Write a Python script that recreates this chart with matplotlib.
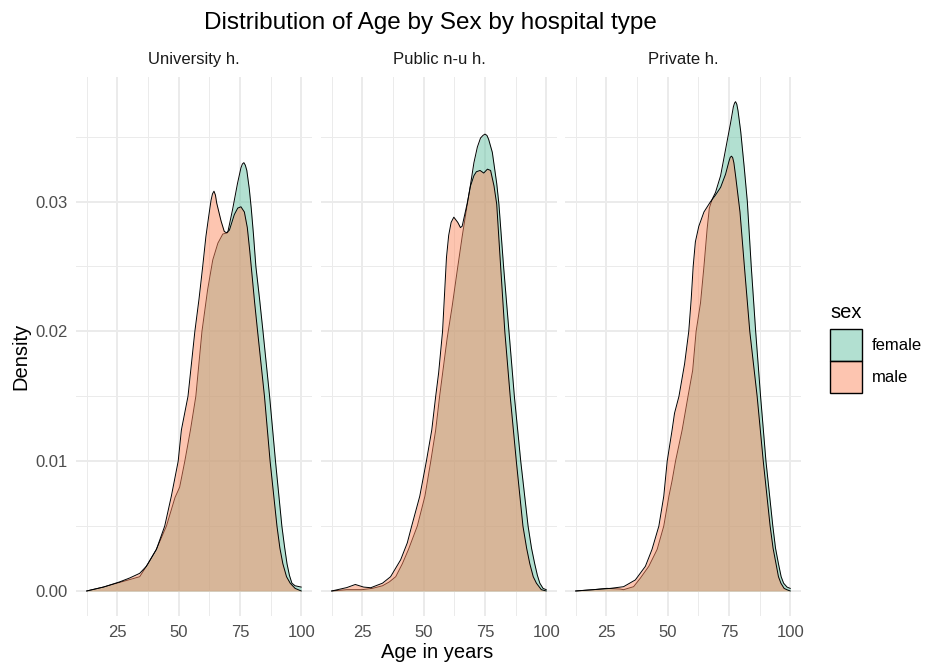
import matplotlib
matplotlib.use("Agg")
import matplotlib.pyplot as plt
from matplotlib.colors import to_rgba
from matplotlib.patches import Rectangle
from matplotlib.ticker import MultipleLocator

plt.rcParams['font.family'] = ['Liberation Sans', 'DejaVu Sans']

FEMALE = "#66C2A5"
MALE = "#FC8D62"

hospitals = ["University h.", "Public n-u h.", "Private h."]
sexes = ["female", "male"]

# University hospitals
univ_f_age = [12.5, 19.3, 24.8, 28.6, 34.1, 37.5, 40.9, 45.0, 48.5, 50.4, 52.5, 54.8,
              57.0, 59.5, 61.8, 63.9, 66.0, 68.0, 70.0, 72.0, 74.0, 75.4, 76.0, 76.6,
              77.2, 77.8, 78.8, 79.6, 80.5, 81.5, 83.0, 84.4, 87.1, 89.5, 92.1, 93.2,
              94.2, 95.2, 96.2, 97.5, 100.0]
univ_f_den = [0.0, 0.0003, 0.0006, 0.0008, 0.0011, 0.0021, 0.0032, 0.0050, 0.0072, 0.0080,
              0.0100, 0.0124, 0.0150, 0.0200, 0.0232, 0.0255, 0.0268, 0.0275, 0.0276,
              0.0294, 0.0314, 0.0326, 0.0329, 0.0330, 0.0328, 0.0324, 0.0310, 0.0295,
              0.0275, 0.0250, 0.0225, 0.0200, 0.0150, 0.0100, 0.0050, 0.0034, 0.0021,
              0.0012, 0.0006, 0.0004, 0.0003]
univ_m_age = [12.5, 19.3, 25.9, 30.0, 34.1, 36.8, 40.9, 44.3, 47.0, 49.8, 51.1, 53.8,
              56.6, 58.3, 59.8, 61.1, 62.2, 63.2, 63.8, 64.4, 65.0, 65.5, 67.3, 68.6,
              69.5, 70.7, 72.7, 74.1, 75.4, 76.8, 78.0, 79.0, 80.0, 81.0, 82.2, 85.0,
              87.3, 90.1, 91.3, 92.5, 94.0, 95.5, 97.5, 100.0]
univ_m_den = [0.0, 0.0003, 0.0007, 0.0010, 0.00136, 0.0019, 0.0032, 0.0050, 0.0073, 0.0100,
              0.0124, 0.0150, 0.0200, 0.0225, 0.0250, 0.0273, 0.0288, 0.0301, 0.0306,
              0.0308, 0.0305, 0.0299, 0.0285, 0.0277, 0.0276, 0.0278, 0.0290, 0.0295,
              0.0296, 0.0292, 0.0280, 0.0262, 0.0242, 0.0222, 0.0200, 0.0150, 0.0100,
              0.0050, 0.0033, 0.0021, 0.0011, 0.0006, 0.0002, 0.0]

# Public non-university hospitals
pub_f_age = [12.5, 18.6, 24.8, 29.1, 33.2, 36.0, 38.6, 41.3, 43.8, 47.4, 50.5, 52.9,
             54.9, 56.5, 59.6, 61.6, 63.7, 65.7, 67.8, 69.1, 70.5, 71.9, 73.2, 74.2,
             75.0, 75.8, 76.5, 78.0, 79.8, 80.7, 82.6, 84.8, 87.0, 89.6, 92.6, 94.0,
             95.3, 96.4, 97.4, 98.7, 100.0]
pub_f_den = [0.0, 0.0001, 0.0001, 0.0002, 0.0004, 0.0007, 0.0011, 0.0021, 0.0032, 0.0050,
             0.0073, 0.0100, 0.0124, 0.0150, 0.0195, 0.0219, 0.0247, 0.0273, 0.0298,
             0.0313, 0.0330, 0.0342, 0.0349, 0.0351, 0.0352, 0.0351, 0.0348, 0.0338,
             0.0314, 0.0298, 0.0250, 0.0200, 0.0150, 0.0100, 0.0050, 0.0033, 0.0021,
             0.0012, 0.0006, 0.0002, 0.0001]
pub_m_age = [12.5, 18.6, 22.1, 25.5, 28.4, 33.2, 36.5, 40.6, 43.3, 45.1, 48.4, 51.1,
             53.3, 54.9, 56.1, 57.7, 58.6, 59.3, 60.2, 61.2, 62.3, 63.9, 65.0, 65.7,
             67.8, 69.1, 70.5, 71.5, 73.0, 74.5, 76.0, 77.3, 78.7, 79.8, 81.4, 83.1,
             85.3, 87.8, 90.5, 92.0, 93.3, 94.7, 96.0, 98.0, 100.0]
pub_m_den = [0.0, 0.00026, 0.0005, 0.0003, 0.00025, 0.0006, 0.0011, 0.0024, 0.0037, 0.0050,
             0.0073, 0.0100, 0.0124, 0.0150, 0.0168, 0.0200, 0.0232, 0.0257, 0.0274,
             0.0284, 0.0288, 0.0284, 0.0280, 0.0281, 0.0299, 0.0312, 0.0320, 0.0323,
             0.0324, 0.0322, 0.0325, 0.0324, 0.0312, 0.0298, 0.0250, 0.0200, 0.0150,
             0.0100, 0.0050, 0.0033, 0.0021, 0.0011, 0.0006, 0.0001, 0.0]

# Private hospitals
priv_f_age = [12.5, 19.7, 25.2, 30.6, 32.0, 36.1, 38.9, 42.3, 45.7, 48.4, 50.5, 51.8,
              53.2, 55.9, 58.3, 60.2, 61.6, 63.4, 64.8, 66.1, 67.0, 68.2, 69.5, 71.6,
              73.6, 75.7, 76.8, 77.3, 77.7, 78.2, 78.7, 79.8, 81.2, 82.5, 84.1, 85.9,
              87.9, 90.1, 92.9, 94.0, 95.2, 96.3, 97.3, 98.7, 100.0]
priv_f_den = [0.0, 0.0001, 0.0002, 0.00015, 0.0001, 0.00033, 0.0010, 0.0019, 0.0032,
              0.0050, 0.0073, 0.0085, 0.0100, 0.0124, 0.0150, 0.0170, 0.0200, 0.0222,
              0.0250, 0.0279, 0.0295, 0.0302, 0.0307, 0.0320, 0.0340, 0.0361, 0.0373,
              0.0376, 0.0377, 0.0375, 0.0370, 0.0354, 0.0327, 0.0300, 0.0250, 0.0200,
              0.0150, 0.0100, 0.0050, 0.0033, 0.0021, 0.0011, 0.0006, 0.0003, 0.0002]
priv_m_age = [12.5, 19.7, 26.6, 32.0, 36.8, 40.9, 43.6, 46.4, 48.4, 49.8, 51.8, 52.8,
              54.6, 56.9, 58.6, 59.6, 60.4, 61.3, 62.7, 64.8, 67.5, 69.5, 71.6, 73.6,
              75.0, 75.5, 76.0, 76.5, 77.0, 77.7, 79.5, 81.3, 83.5, 86.5, 89.0, 91.8,
              93.0, 94.2, 95.2, 96.2, 97.5, 98.6, 100.0]
priv_m_den = [0.0, 0.0001, 0.0002, 0.00033, 0.00085, 0.0019, 0.0032, 0.0050, 0.0073,
              0.0100, 0.0124, 0.0137, 0.0150, 0.0175, 0.0200, 0.0225, 0.0250, 0.0269,
              0.0281, 0.0292, 0.0300, 0.0305, 0.0311, 0.0321, 0.0331, 0.0334, 0.0335,
              0.0334, 0.0330, 0.0320, 0.0292, 0.0250, 0.0200, 0.0150, 0.0100, 0.0050,
              0.0033, 0.0021, 0.0011, 0.0006, 0.0002, 0.0001, 0.0]

curves = {
    "University h.": {"female": (univ_f_age, univ_f_den), "male": (univ_m_age, univ_m_den)},
    "Public n-u h.": {"female": (pub_f_age, pub_f_den), "male": (pub_m_age, pub_m_den)},
    "Private h.": {"female": (priv_f_age, priv_f_den), "male": (priv_m_age, priv_m_den)},
}
fills = {"female": FEMALE, "male": MALE}

W, H = 925, 668
fig = plt.figure(figsize=(W / 100, H / 100), dpi=100)


def fx(px):
    return px / W


def fy(py):
    return 1 - py / H


panel_lefts = [76, 321, 565]
panel_w = 236
panel_top, panel_bot = 77, 615.5

for i, name in enumerate(hospitals):
    ax = fig.add_axes([fx(panel_lefts[i]), fy(panel_bot),
                       panel_w / W, (panel_bot - panel_top) / H])
    z = 1.0
    for sex in sexes:
        age, den = curves[name][sex]
        ax.fill_between(age, den, color=fills[sex], alpha=0.5, lw=0, zorder=z)
        ax.plot(age, den, color="black", lw=0.7, zorder=z + 0.1,
                solid_joinstyle="round")
        z += 0.2

    ax.set_xlim(8.1, 104.4)
    ax.set_ylim(-0.00189, 0.0396)
    ax.xaxis.set_major_locator(MultipleLocator(25))
    ax.xaxis.set_minor_locator(MultipleLocator(12.5))
    ax.yaxis.set_major_locator(MultipleLocator(0.01))
    ax.yaxis.set_minor_locator(MultipleLocator(0.005))
    ax.set_axisbelow(True)
    ax.grid(which="major", color="#EBEBEB", lw=1.4)
    ax.grid(which="minor", color="#EBEBEB", lw=0.7)
    for s in ax.spines.values():
        s.set_visible(False)
    ax.tick_params(which="both", length=0, labelsize=12, labelcolor="#4D4D4D")
    ax.tick_params(axis="x", pad=7)
    ax.tick_params(axis="y", pad=6)
    ax.set_xticks([25, 50, 75, 100])
    ax.set_xticklabels(["25", "50", "75", "100"])
    if i == 0:
        ax.set_yticks([0.0, 0.01, 0.02, 0.03])
        ax.set_yticklabels(["0.00", "0.01", "0.02", "0.03"])
    else:
        ax.tick_params(axis="y", labelleft=False)
    ax.text(0.5, 1.0316, name, transform=ax.transAxes, ha="center", va="center",
            fontsize=12, color="#1A1A1A")

fig.text(fx(430), fy(23), "Distribution of Age by Sex by hospital type",
         ha="center", va="center", fontsize=17.5)
fig.text(fx(437), fy(652), "Age in years", ha="center", va="center", fontsize=14.5)
fig.text(fx(21), fy(356), "Density", ha="center", va="center", fontsize=14.5,
         rotation=90)

# legend drawn by hand: title, two stacked keys, labels
fig.text(fx(830), fy(313), "sex", ha="left", va="center", fontsize=14.5)
key_top = 329
key_size = 32
for k, sex in enumerate(sexes):
    top = key_top + k * key_size
    fig.add_artist(Rectangle((fx(830), fy(top + key_size)), key_size / W, key_size / H,
                             transform=fig.transFigure,
                             facecolor=to_rgba(fills[sex], 0.5),
                             edgecolor="black", lw=1.0))
    fig.text(fx(872), fy(top + key_size / 2), sex, ha="left", va="center",
             fontsize=12)

fig.savefig("out.png", dpi=100)
